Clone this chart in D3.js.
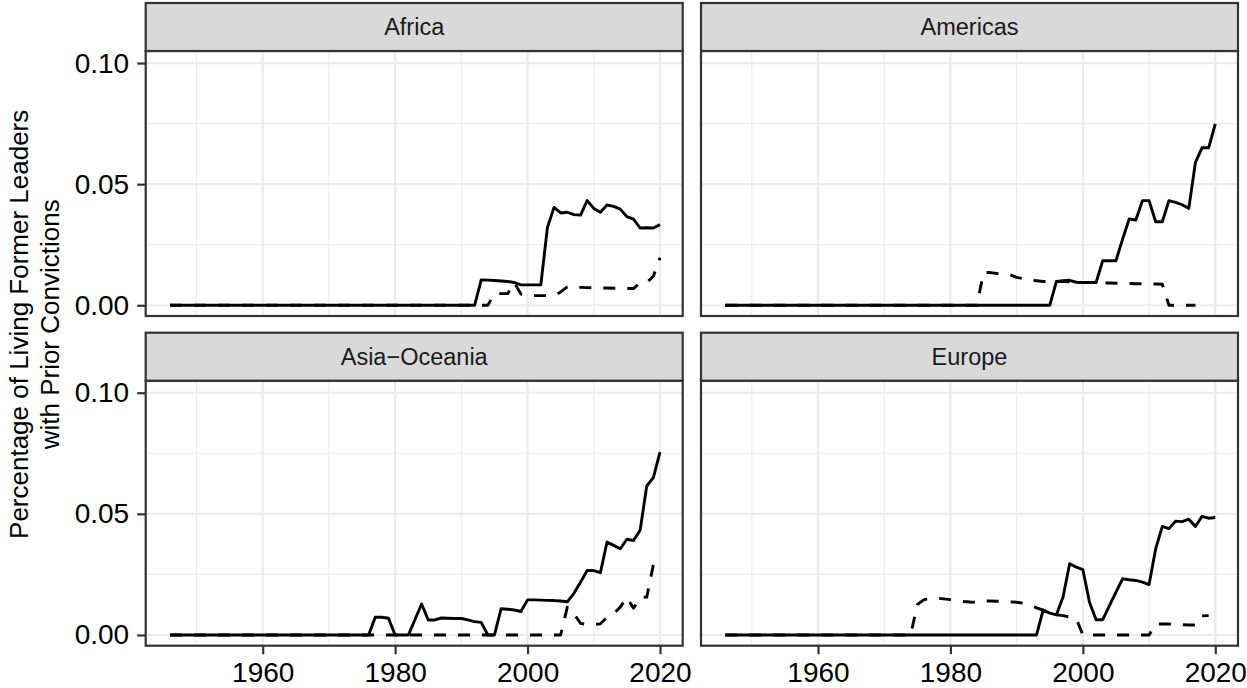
<!DOCTYPE html>
<html>
<head>
<meta charset="utf-8">
<script src="https://cdn.jsdelivr.net/npm/d3@7"></script>
<style>
  html, body { margin: 0; padding: 0; background: #fff; }
  svg { display: block; }
  text { font-family: "Liberation Sans", Arial, Helvetica, sans-serif; }
</style>
</head>
<body>
<script>
// ---------- data ----------
const regions = ["Africa", "Americas", "Asia\u2212Oceania", "Europe"];
const xTicks = [1960, 1980, 2000, 2020];
const xMinor = [1950, 1970, 1990, 2010];
const yTicks = [0.00, 0.05, 0.10];
const yTickLabels = ["0.00", "0.05", "0.10"];
const yMinor = [0.025, 0.075];
const yTitleLines = ["Percentage of Living Former Leaders", "with Prior Convictions"];

// Each series: start year + one value per year
const africaSolidStart = 1946;
const africaSolid = [
  0,0,0,0,0,0,0,0,0,0, 0,0,0,0,0,0,0,0,0,0, 0,0,0,0,0,0,0,0,0,0,
  0,0,0,0,0,0,0,0,0,0, 0,0,0,0,0,0,0,
  0.0105,0.0104,0.0102,0.0100,0.0098,0.0094,0.0084,0.0084,0.0084,0.0084,
  0.0321,0.0404,0.0381,0.0384,0.0374,0.0372,0.0432,0.0400,0.0384,0.0414,
  0.0408,0.0397,0.0366,0.0356,0.0319,0.0320,0.0319,0.0333
];
const africaDashedStart = 1946;
const africaDashed = [
  0,0,0,0,0,0,0,0,0,0, 0,0,0,0,0,0,0,0,0,0, 0,0,0,0,0,0,0,0,0,0,
  0,0,0,0,0,0,0,0,0,0, 0,0,0,0,0,0,0,0,0,
  0.0048,0.0048,0.0048,0.0094,0.0046,0.0040,0.0040,0.0040,0.0040,0.0040,
  0.0055,0.0076,0.0075,0.0074,0.0073,0.0072,0.0071,0.0071,0.0070,0.0070,
  0.0069,0.0069,0.0093,0.0093,0.0120,0.0196
];
const americasSolidStart = 1946;
const americasSolid = [
  0,0,0,0,0,0,0,0,0,0, 0,0,0,0,0,0,0,0,0,0, 0,0,0,0,0,0,0,0,0,0,
  0,0,0,0,0,0,0,0,0,0, 0,0,0,0,0,0,0,0,0,0,
  0.0098,0.0101,0.0103,0.0095,0.0094,0.0094,0.0094,0.0184,0.0184,0.0184,
  0.0273,0.0356,0.0352,0.0432,0.0432,0.0345,0.0345,0.0432,0.0425,0.0415,
  0.0400,0.0590,0.0650,0.0650,0.0749
];
const americasDashedStart = 1946;
const americasDashed = [
  0,0,0,0,0,0,0,0,0,0, 0,0,0,0,0,0,0,0,0,0, 0,0,0,0,0,0,0,0,0,0,
  0,0,0,0,0,0,0,0,0,
  0.0135,0.0135,0.0131,0.0131,0.0126,0.0115,0.0110,0.0106,0.0101,0.0098,
  0.0098,0.0098,0.0098,0.0097,0.0095,0.0094,0.0094,0.0094,0.0092,0.0092,
  0.0091,0.0091,0.0090,0.0089,0.0089,0.0088,0.0088,0.0087,
  0,0,0,0,0
];
const asiaSolidStart = 1946;
const asiaSolid = [
  0,0,0,0,0,0,0,0,0,0, 0,0,0,0,0,0,0,0,0,0, 0,0,0,0,0,0,0,0,0,0,
  0,
  0.0073,0.0073,0.0069,0,0,0,0.0064,0.0128,0.0062,0.0062,
  0.0070,0.0069,0.0068,0.0068,0.0062,0.0055,0.0052,0,0,0.0108,
  0.0106,0.0103,0.0097,0.0145,0.0145,0.0144,0.0143,0.0142,0.0140,0.0137,
  0.0172,0.0218,0.0266,0.0266,0.0257,0.0384,0.0370,0.0356,0.0395,0.0390,
  0.0432,0.0615,0.0650,0.0755
];
const asiaDashedStart = 1946;
const asiaDashed = [
  0,0,0,0,0,0,0,0,0,0, 0,0,0,0,0,0,0,0,0,0, 0,0,0,0,0,0,0,0,0,0,
  0,0,0,0,0,0,0,0,0,0, 0,0,0,0,0,0,0,0,0,0, 0,0,0,0,0,0,0,0,0,0,
  0.0115,0.0088,0.0048,0.0043,0.0043,0.0046,0.0073,0.0087,0.0115,0.0156,
  0.0110,0.0156,0.0156,0.0290
];
const europeSolidStart = 1946;
const europeSolid = [
  0,0,0,0,0,0,0,0,0,0, 0,0,0,0,0,0,0,0,0,0, 0,0,0,0,0,0,0,0,0,0,
  0,0,0,0,0,0,0,0,0,0, 0,0,0,0,0,0,0,0,
  0.0103,0.0090,0.0083,0.0156,0.0294,0.0280,0.0270,0.0135,0.0063,0.0063,
  0.0120,0.0177,0.0232,0.0228,0.0225,0.0218,0.0208,0.0356,0.0448,0.0439,
  0.0470,0.0468,0.0478,0.0448,0.0490,0.0482,0.0485
];
const europeDashedStart = 1946;
const europeDashed = [
  0,0,0,0,0,0,0,0,0,0, 0,0,0,0,0,0,0,0,0,0, 0,0,0,0,0,0,0,0,0,
  0.0125,0.0146,0.0150,0.0152,0.0149,0.0146,0.0142,0.0138,0.0136,0.0135,
  0.0141,0.0140,0.0139,0.0139,0.0137,0.0135,0.0131,0.0124,0.0112,0.0103,
  0.0090,0.0083,0.0080,0.0074,0.0068,0,0,0,0,0,
  0,0,0,0,0,0,0.0045,0.0045,0.0045,0.0044,
  0.0042,0.0041,0.0041,0.0079,0.0080
];

const seriesByRegion = [
  { solid: [africaSolidStart, africaSolid], dashed: [africaDashedStart, africaDashed] },
  { solid: [americasSolidStart, americasSolid], dashed: [americasDashedStart, americasDashed] },
  { solid: [asiaSolidStart, asiaSolid], dashed: [asiaDashedStart, asiaDashed] },
  { solid: [europeSolidStart, europeSolid], dashed: [europeDashedStart, europeDashed] }
];

// ---------- layout ----------
const W = 1247, H = 688;
const panelW = 537;
const colX = [145.7, 701];
const stripTop = [3, 332.7];
const stripH = 48;
const plotH = 265;

const svg = d3.select("body").append("svg").attr("width", W).attr("height", H);

const x = d3.scaleLinear().domain([1942.33, 2023.43]).range([0, panelW]);
const y = d3.scaleLinear().domain([-0.00443, 0.10497]).range([plotH, 0]);

const toPoints = ([start, vals]) => vals.map((v, i) => ({ year: start + i, v }));
const line = d3.line().x(d => x(d.year)).y(d => y(d.v));

regions.forEach((name, i) => {
  const col = i % 2, row = Math.floor(i / 2);
  const px = colX[col];
  const sTop = stripTop[row];
  const pTop = sTop + stripH;
  const g = svg.append("g").attr("transform", `translate(${px},${pTop})`);

  g.append("rect").attr("width", panelW).attr("height", plotH).attr("fill", "#fff");

  // minor grid
  g.selectAll(".vminor").data(xMinor).enter().append("line")
    .attr("x1", d => x(d)).attr("x2", d => x(d)).attr("y1", 0).attr("y2", plotH)
    .attr("stroke", "#EBEBEB").attr("stroke-width", 1.1);
  g.selectAll(".hminor").data(yMinor).enter().append("line")
    .attr("y1", d => y(d)).attr("y2", d => y(d)).attr("x1", 0).attr("x2", panelW)
    .attr("stroke", "#EBEBEB").attr("stroke-width", 1.1);
  // major grid
  g.selectAll(".vmajor").data(xTicks).enter().append("line")
    .attr("x1", d => x(d)).attr("x2", d => x(d)).attr("y1", 0).attr("y2", plotH)
    .attr("stroke", "#EBEBEB").attr("stroke-width", 2.2);
  g.selectAll(".hmajor").data(yTicks).enter().append("line")
    .attr("y1", d => y(d)).attr("y2", d => y(d)).attr("x1", 0).attr("x2", panelW)
    .attr("stroke", "#EBEBEB").attr("stroke-width", 2.2);

  // series
  const s = seriesByRegion[i];
  g.append("path").datum(toPoints(s.solid)).attr("d", line)
    .attr("fill", "none").attr("stroke", "#000").attr("stroke-width", 2.9)
    .attr("stroke-linejoin", "round");
  g.append("path").datum(toPoints(s.dashed)).attr("d", line)
    .attr("fill", "none").attr("stroke", "#000").attr("stroke-width", 2.9)
    .attr("stroke-dasharray", "12,12").attr("stroke-linejoin", "round");

  // panel border
  g.append("rect").attr("width", panelW).attr("height", plotH)
    .attr("fill", "none").attr("stroke", "#333333").attr("stroke-width", 2.2);

  // strip
  const sg = svg.append("g").attr("transform", `translate(${px},${sTop})`);
  sg.append("rect").attr("width", panelW).attr("height", stripH)
    .attr("fill", "#D9D9D9").attr("stroke", "#333333").attr("stroke-width", 2.2);
  sg.append("text").attr("x", panelW / 2).attr("y", stripH / 2)
    .attr("dy", "0.36em").attr("text-anchor", "middle")
    .attr("font-size", 23.5).attr("fill", "#1A1A1A").text(name);

  // y axis (left column)
  if (col === 0) {
    const ya = d3.axisLeft(y).tickValues(yTicks).tickFormat((d, k) => yTickLabels[k])
      .tickSize(8.5).tickPadding(8);
    const ag = g.append("g").call(ya);
    ag.select(".domain").remove();
    ag.selectAll(".tick line").attr("stroke", "#333333").attr("stroke-width", 2.2);
    ag.selectAll(".tick text").attr("font-size", 28).attr("fill", "#000")
      .attr("font-family", "Liberation Sans, Arial, sans-serif");
  }
  // x axis (bottom row)
  if (row === 1) {
    const xa = d3.axisBottom(x).tickValues(xTicks).tickFormat(d3.format("d"))
      .tickSize(8.5).tickPadding(8);
    const ag = g.append("g").attr("transform", `translate(0,${plotH})`).call(xa);
    ag.select(".domain").remove();
    ag.selectAll(".tick line").attr("stroke", "#333333").attr("stroke-width", 2.2);
    ag.selectAll(".tick text").attr("font-size", 28).attr("fill", "#000")
      .attr("font-family", "Liberation Sans, Arial, sans-serif");
  }
});

// y-axis title
const midY = (stripTop[0] + stripTop[1] + stripH + plotH) / 2;
const yt = svg.append("text")
  .attr("transform", `translate(0,${midY}) rotate(-90)`)
  .attr("text-anchor", "middle").attr("font-size", 26).attr("fill", "#000");
yt.selectAll("tspan").data(yTitleLines).enter().append("tspan")
  .attr("x", 0).attr("y", (d, k) => 28 + k * 31)
  .text(d => d);
</script>
</body>
</html>
